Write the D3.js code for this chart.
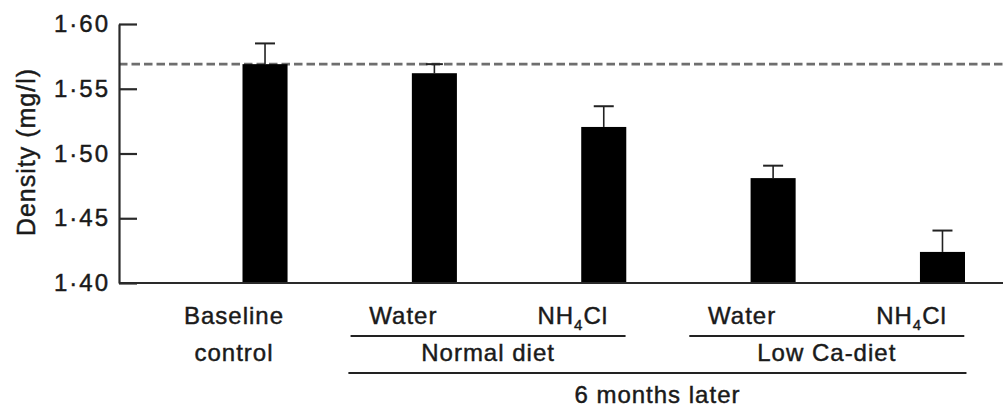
<!DOCTYPE html>
<html>
<head>
<meta charset="utf-8">
<script src="https://cdn.jsdelivr.net/npm/d3@7"></script>
<style>
  html, body { margin: 0; padding: 0; background: #fff; }
  svg { display: block; }
  text { font-family: "Liberation Sans", Arial, Helvetica, sans-serif; fill: #1a1a1a; stroke: #1a1a1a; stroke-width: 0.45px; }
</style>
</head>
<body>
<svg id="chart" width="1003" height="407"></svg>
<script>
// Bone density by group (mean and upper SE)
const groups = ["baseline", "normalWater", "normalNH4Cl", "lowCaWater", "lowCaNH4Cl"];
const density = [1.569, 1.562, 1.5205, 1.481, 1.424];
const densityErr = [0.016, 0.007, 0.016, 0.0096, 0.0165];
const baselineLevel = 1.569;
const yTicks = [1.40, 1.45, 1.50, 1.55, 1.60];

// Labels under each bar
const treatmentLabels = ["Baseline", "Water", "NH4Cl", "Water", "NH4Cl"];
const dietGroups = [
  { name: "Normal diet", members: ["normalWater", "normalNH4Cl"] },
  { name: "Low Ca-diet", members: ["lowCaWater", "lowCaNH4Cl"] }
];
const periodLabel = "6 months later";

const W = 1003, H = 407;
const svg = d3.select("#chart");

const x = d3.scaleBand().domain(groups).range([242.5, 965]).paddingInner(0.734).paddingOuter(0);
const y = d3.scaleLinear().domain([1.40, 1.60]).range([283, 24]);
const axisX = 119;

// dashed reference line at the baseline mean
svg.append("line")
  .attr("x1", axisX).attr("x2", W)
  .attr("y1", y(baselineLevel)).attr("y2", y(baselineLevel))
  .attr("stroke", "#6e6e6e").attr("stroke-width", 2.6)
  .attr("stroke-dasharray", "8.5,4");

// error bars (upper only)
const eb = svg.append("g");
groups.forEach((g, i) => {
  const cx = x(g) + x.bandwidth() / 2;
  const capW = i === 1 ? 17 : 20;
  eb.append("line").attr("x1", cx).attr("x2", cx)
    .attr("y1", y(density[i])).attr("y2", y(density[i] + densityErr[i]))
    .attr("stroke", "#222").attr("stroke-width", 1.6);
  eb.append("line").attr("x1", cx - capW / 2).attr("x2", cx + capW / 2)
    .attr("y1", y(density[i] + densityErr[i])).attr("y2", y(density[i] + densityErr[i]))
    .attr("stroke", "#222").attr("stroke-width", 2);
});

// bars
svg.append("g").selectAll("rect").data(groups).join("rect")
  .attr("x", d => x(d))
  .attr("width", x.bandwidth())
  .attr("y", (d, i) => y(density[i]))
  .attr("height", (d, i) => y(1.40) - y(density[i]))
  .attr("fill", "#000");

// baseline (x axis line)
svg.append("line")
  .attr("x1", axisX).attr("x2", W)
  .attr("y1", y(1.40)).attr("y2", y(1.40))
  .attr("stroke", "#2a2a2a").attr("stroke-width", 2.2);

// y axis with inward ticks
const yAxis = d3.axisLeft(y)
  .tickValues(yTicks)
  .tickSizeInner(-18)
  .tickSizeOuter(0)
  .tickPadding(9)
  .tickFormat(d => d3.format(".2f")(d).replace(".", "\u00b7"));

const ga = svg.append("g").attr("transform", `translate(${axisX},0)`).call(yAxis);
ga.select(".domain").attr("stroke", "#2a2a2a").attr("stroke-width", 2.2);
ga.selectAll(".tick line").attr("stroke", "#2a2a2a").attr("stroke-width", 2.2);
ga.selectAll(".tick text")
  .style("font-family", "'Liberation Sans', Arial, sans-serif")
  .attr("font-size", 24).attr("letter-spacing", 2).attr("fill", "#1a1a1a");

// y axis title
svg.append("text")
  .attr("transform", "translate(35,152) rotate(-90)")
  .attr("text-anchor", "middle")
  .attr("font-size", 25).attr("letter-spacing", 1)
  .text("Density (mg/l)");

// category labels
const labelOffset = -31;
const row1 = 324;
const lab = svg.append("g").attr("font-size", 24).attr("letter-spacing", 1).attr("text-anchor", "middle");
treatmentLabels.forEach((t, i) => {
  const cx = x(groups[i]) + x.bandwidth() / 2 + labelOffset;
  const el = lab.append("text").attr("x", cx).attr("y", row1);
  if (t === "NH4Cl") {
    el.append("tspan").text("NH");
    el.append("tspan").text("4").attr("font-size", 15).attr("dy", 6);
    el.append("tspan").text("Cl").attr("dy", -6);
  } else {
    el.text(t);
  }
});
// second line of the baseline label
lab.append("text")
  .attr("x", x(groups[0]) + x.bandwidth() / 2 + labelOffset)
  .attr("y", 361).text("control");

// diet group underlines and names
const halfLine = 137.5;
dietGroups.forEach(dg => {
  const cs = dg.members.map(m => x(m) + x.bandwidth() / 2 + labelOffset);
  const mid = d3.mean(cs);
  svg.append("line").attr("x1", mid - halfLine).attr("x2", mid + halfLine)
    .attr("y1", 336).attr("y2", 336)
    .attr("stroke", "#222").attr("stroke-width", 2.2);
  lab.append("text").attr("x", mid).attr("y", 361).text(dg.name);
});

// period line and label spanning all treatment groups
const allCs = groups.slice(1).map(g => x(g) + x.bandwidth() / 2 + labelOffset);
const pMid = d3.mean(allCs);
svg.append("line")
  .attr("x1", d3.min(allCs) - (halfLine - 82.5)).attr("x2", d3.max(allCs) + (halfLine - 82.5))
  .attr("y1", 373).attr("y2", 373)
  .attr("stroke", "#222").attr("stroke-width", 2.2);
lab.append("text").attr("x", pMid).attr("y", 403).text(periodLabel);
</script>
</body>
</html>
